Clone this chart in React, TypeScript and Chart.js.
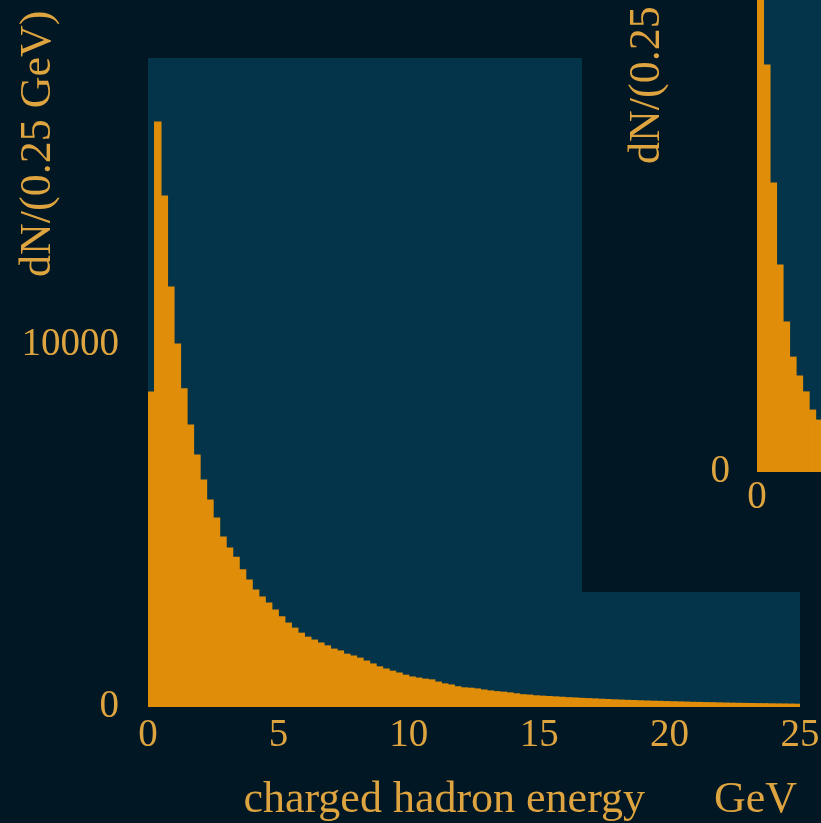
import React, { useEffect, useRef } from "react";
import { Chart, registerables } from "chart.js";

Chart.register(...registerables);

// Histogram binning: 0.25 GeV bins from 0 to 25 GeV
const BIN_WIDTH = 0.25;
const X_MIN = 0;
const X_MAX = 25;

// Charged hadron energy spectrum, entries per 0.25 GeV bin
const hadronCounts = [
  8700, 16160, 14120, 11600, 10030, 8790, 7790, 6960, 6270, 5720,
  5220, 4700, 4390, 4140, 3790, 3510, 3230, 3040, 2870, 2680,
  2490, 2320, 2180, 2040, 1930, 1850, 1770, 1690, 1600, 1550,
  1460, 1410, 1350, 1270, 1190, 1110, 1050, 990, 940, 880,
  830, 800, 770, 750, 690, 640, 610, 560, 530, 520,
  500, 470, 445, 425, 410, 390, 365, 340, 330, 310,
  300, 290, 280, 270, 258, 250, 240, 232, 225, 215,
  208, 198, 192, 185, 180, 172, 166, 160, 156, 150,
  145, 141, 136, 130, 127, 122, 119, 114, 110, 106,
  103, 100, 97, 94, 92, 88, 86, 84, 81, 78,
];

// Neighbouring panel: first bins of its spectrum
const panelCounts = [18800, 15450, 10970, 7860, 5690, 4360, 3640, 3040, 2350, 1970];

const mainYMax = 17930;
const mainYTicks = [0, 10000];
const mainXTicks = [0, 5, 10, 15, 20, 25];

const panelYMax = 20000;
const panelYTicks = [0];
const panelXTicks = [0];

const yTitle = "dN/(0.25 GeV)";
const xTitle = "charged hadron energy";
const xUnit = "GeV";

const PAGE_BG = "#021724";
const PLOT_BG = "#04344a";
const BAR_COLOR = "#e08d0a";
const TEXT_COLOR = "#dda43f";
const FONT = "'Liberation Serif', 'Times New Roman', serif";
const TICK_SIZE = 39;
const TITLE_SIZE = 44;

type Frame = {
  plotLeft: number;
  plotTop: number;
  plotRightPad: number;
  xAxisHeight: number;
  xTickPad: number;
  yTickPad: number;
};

type Titles = { y?: string; x?: string; unit?: string };

const backgroundPlugin = {
  id: "panelBackground",
  beforeDraw(chart: any) {
    const { ctx, chartArea, width, height } = chart;
    ctx.save();
    ctx.fillStyle = PAGE_BG;
    ctx.fillRect(0, 0, width, height);
    ctx.fillStyle = PLOT_BG;
    ctx.fillRect(
      chartArea.left,
      chartArea.top,
      chartArea.right - chartArea.left,
      chartArea.bottom - chartArea.top
    );
    ctx.restore();
  },
};

function titlePlugin(titles: Titles) {
  return {
    id: "axisTitles",
    afterDraw(chart: any) {
      const { ctx, chartArea } = chart;
      ctx.save();
      ctx.fillStyle = TEXT_COLOR;
      ctx.font = `${TITLE_SIZE}px ${FONT}`;
      ctx.textBaseline = "alphabetic";
      if (titles.y) {
        ctx.save();
        ctx.translate(chartArea.left - 98, chartArea.top + 219);
        ctx.rotate(-Math.PI / 2);
        ctx.textAlign = "left";
        ctx.fillText(titles.y, 0, 0);
        ctx.restore();
      }
      if (titles.x) {
        ctx.textAlign = "right";
        ctx.fillText(titles.x, chartArea.right - 155, chartArea.bottom + 105);
      }
      if (titles.unit) {
        ctx.textAlign = "right";
        ctx.fillText(titles.unit, chartArea.right - 3, chartArea.bottom + 105);
      }
      ctx.restore();
    },
  };
}

function buildHistogram(
  canvas: HTMLCanvasElement,
  counts: number[],
  yMax: number,
  yTicks: number[],
  xTicks: number[],
  frame: Frame,
  titles: Titles
) {
  // one bar per bin, placed at the bin centre and spanning the full bin width
  const bars = counts.map((c, i) => ({ x: X_MIN + (i + 0.5) * BIN_WIDTH, y: c }));
  const tickFont = { family: FONT, size: TICK_SIZE };
  return new Chart(canvas, {
    type: "bar",
    data: {
      datasets: [
        {
          data: bars,
          backgroundColor: BAR_COLOR,
          borderWidth: 0,
          barPercentage: 1,
          categoryPercentage: 1,
          inflateAmount: 0.5,
        } as any,
      ],
    },
    options: {
      responsive: false,
      animation: false,
      devicePixelRatio: 1,
      layout: {
        padding: { top: frame.plotTop, right: frame.plotRightPad, left: 0, bottom: 0 },
      },
      plugins: {
        legend: { display: false },
        tooltip: { enabled: false },
      },
      scales: {
        x: {
          type: "linear",
          min: X_MIN,
          max: X_MAX,
          offset: false,
          grid: { display: false, drawTicks: false, offset: false },
          border: { display: false },
          ticks: {
            font: tickFont,
            color: TEXT_COLOR,
            padding: frame.xTickPad,
            maxRotation: 0,
            autoSkip: false,
            callback: (v: any) => String(v),
          },
          afterBuildTicks: (scale: any) => {
            scale.ticks = xTicks.map((v) => ({ value: v }));
          },
          afterFit: (scale: any) => {
            scale.height = frame.xAxisHeight;
            scale.paddingLeft = 0;
            scale.paddingRight = 0;
          },
        },
        y: {
          type: "linear",
          min: 0,
          max: yMax,
          grid: { display: false, drawTicks: false },
          border: { display: false },
          ticks: {
            font: tickFont,
            color: TEXT_COLOR,
            padding: frame.yTickPad,
            callback: (v: any) => String(v),
          },
          afterBuildTicks: (scale: any) => {
            scale.ticks = yTicks.map((v) => ({ value: v }));
          },
          afterFit: (scale: any) => {
            scale.width = frame.plotLeft;
            scale.paddingTop = 0;
            scale.paddingBottom = 0;
          },
        },
      },
    },
    plugins: [backgroundPlugin, titlePlugin(titles)],
  });
}

export default function App() {
  const mainRef = useRef<HTMLCanvasElement | null>(null);
  const panelRef = useRef<HTMLCanvasElement | null>(null);

  useEffect(() => {
    const charts: Chart[] = [];
    if (mainRef.current) {
      charts.push(
        buildHistogram(
          mainRef.current,
          hadronCounts,
          mainYMax,
          mainYTicks,
          mainXTicks,
          { plotLeft: 148, plotTop: 58, plotRightPad: 21, xAxisHeight: 116, xTickPad: 5, yTickPad: 29 },
          { y: yTitle, x: xTitle, unit: xUnit }
        )
      );
    }
    if (panelRef.current) {
      charts.push(
        buildHistogram(
          panelRef.current,
          panelCounts,
          panelYMax,
          panelYTicks,
          panelXTicks,
          { plotLeft: 175, plotTop: 145, plotRightPad: 21, xAxisHeight: 120, xTickPad: 2, yTickPad: 27 },
          { y: yTitle }
        )
      );
    }
    return () => charts.forEach((c) => c.destroy());
  }, []);

  return (
    <div
      style={{
        position: "fixed",
        left: 0,
        top: 0,
        width: 821,
        height: 823,
        overflow: "hidden",
        background: PAGE_BG,
      }}
    >
      <canvas
        ref={mainRef}
        width={821}
        height={823}
        style={{ position: "absolute", left: 0, top: 0, width: 821, height: 823 }}
      />
      <canvas
        ref={panelRef}
        width={848}
        height={792}
        style={{ position: "absolute", left: 582, top: -200, width: 848, height: 792 }}
      />
    </div>
  );
}
